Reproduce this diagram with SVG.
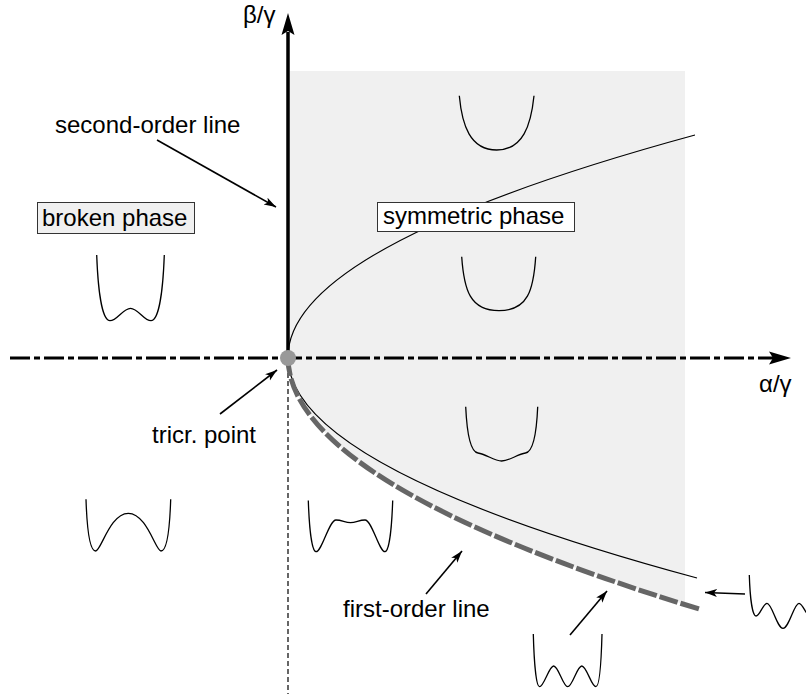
<svg xmlns="http://www.w3.org/2000/svg" width="806" height="694" viewBox="0 0 806 694">
<style>
text{font-family:"Liberation Sans",Arial,Helvetica,sans-serif;font-size:24px;fill:#000}
.pot{fill:none;stroke:#000;stroke-width:1.3}
.thin{fill:none;stroke:#000;stroke-width:1.2}
.arr{fill:none;stroke:#000;stroke-width:1.6;marker-end:url(#ah)}
.box{stroke:#333;stroke-width:1}
</style>
<defs>
<marker id="ah" markerUnits="userSpaceOnUse" markerWidth="14" markerHeight="10" refX="12" refY="4" orient="auto">
<path d="M0,0 L12,4 L0,8 L3,4 z" fill="#000"/>
</marker>
</defs>
<rect width="806" height="694" fill="#fff"/>
<g id="shaded-region">
<path d="M288,357 Q288,480.8 685,604.6 L685,71 L289.5,71 Z" fill="#f0f0f0"/>
</g>
<g id="axes">
<line x1="288" y1="357" x2="288" y2="694" stroke="#000" stroke-width="1.2" stroke-dasharray="5 3"/>
<line x1="288" y1="357" x2="288" y2="32" stroke="#000" stroke-width="3.5"/>
<polygon points="288,13 281.5,35 288,31 294.5,35" fill="#000"/>
<line x1="10" y1="358" x2="774" y2="358" stroke="#000" stroke-width="3.2" stroke-dasharray="20 4 6 4"/>
<polygon points="791,358 769,351.5 773,358 769,364.5" fill="#000"/>
<text x="243" y="23">β/γ</text>
<text x="759" y="392">α/γ</text>
</g>
<g id="lines">
<path class="thin" d="M288,357 Q288,246 695,135"/>
<path class="thin" d="M288,357 Q288,467.5 697,578"/>
<path d="M288,357 Q288,483 699,609" fill="none" stroke="#666" stroke-width="5" stroke-dasharray="19 3"/>
</g>
<g id="tricritical-point">
<circle cx="288" cy="358" r="8" fill="#999"/>
</g>
<g id="broken-phase-label">
<rect class="box" x="37.5" y="202.5" width="157" height="31" fill="#f0f0f0"/>
<text x="42" y="226">broken phase</text>
</g>
<g id="symmetric-phase-label">
<rect class="box" x="377.5" y="202.5" width="197" height="29" fill="#fff"/>
<text x="383" y="224">symmetric phase</text>
</g>
<g id="second-order-label"><text x="55" y="133">second-order line</text></g>
<g id="tricr-label"><text x="152" y="443">tricr. point</text></g>
<g id="first-order-label"><text x="343" y="617">first-order line</text></g>
<g id="potentials">
<path id="pot-broken" class="pot" d="M96.7,255 C98,290 102,320.7 110,320.7 C117,320.7 123,308.3 130.5,308.3 C138,308.3 144,320.7 151,320.7 C159,320.7 163,290 164.3,255"/>
<path id="pot-sym-top" class="pot" d="M459.3,95.7 C462,125 470,150 496.7,150 C523,150 531,125 534,95.7"/>
<path id="pot-sym-mid" class="pot" d="M461.7,256.7 C464,290 470,310.7 499,310.7 C528,310.7 533.5,290 535.7,256.7"/>
<path id="pot-sym-low" class="pot" d="M465.7,406.7 C467,435 471,452 478,453 C486,454 494,461 501.7,461 C509.5,461 517.5,454 525.5,453 C532.5,452 536.5,435 537.7,406.7"/>
<path id="pot-lowleft" class="pot" d="M86,499.3 C87,530 90,551 95.7,551 C101,551 110,513.3 128.3,513.3 C146.7,513.3 155.7,551 161,551 C166.7,551 169.7,530 170.7,499.3"/>
<path id="pot-lowmid" class="pot" d="M308.3,500.5 C309.3,530 312,551.7 316,551.7 C322,551.7 329,520 336,520 C342,520 345,522.7 350.5,522.7 C356,522.7 359,520 365,520 C372,520 379,551.7 385,551.7 C389,551.7 391.7,530 392.7,500.5"/>
<path id="pot-bottom" class="pot" d="M533.3,634 C534,660 536,686.7 539.5,686.7 C544,686.7 549,666 553.6,666 C558.5,666 563,686.7 567.7,686.7 C572.4,686.7 577,666 581.8,666 C586.5,666 591.5,686.7 595.9,686.7 C599.4,686.7 601.3,660 602,634"/>
<path id="pot-right" class="pot" d="M749.3,575 C750,598 752.5,616 756,616 C760,616 763,603.3 767,603.3 C772,603.3 777,628.3 783,628.3 C789,628.3 794,603.3 799,603.3 C803,603.3 806,616 810,616 C813.5,616 816,598 816.7,575"/>
</g>
<g id="connectors">
<line class="arr" x1="157" y1="140" x2="276" y2="207"/>
<line class="arr" x1="220" y1="414" x2="277" y2="370"/>
<line class="arr" x1="426" y1="594" x2="462" y2="551"/>
<line class="arr" x1="570" y1="635" x2="607" y2="591"/>
<line class="arr" x1="745" y1="594" x2="705" y2="592.5"/>
</g>
</svg>
